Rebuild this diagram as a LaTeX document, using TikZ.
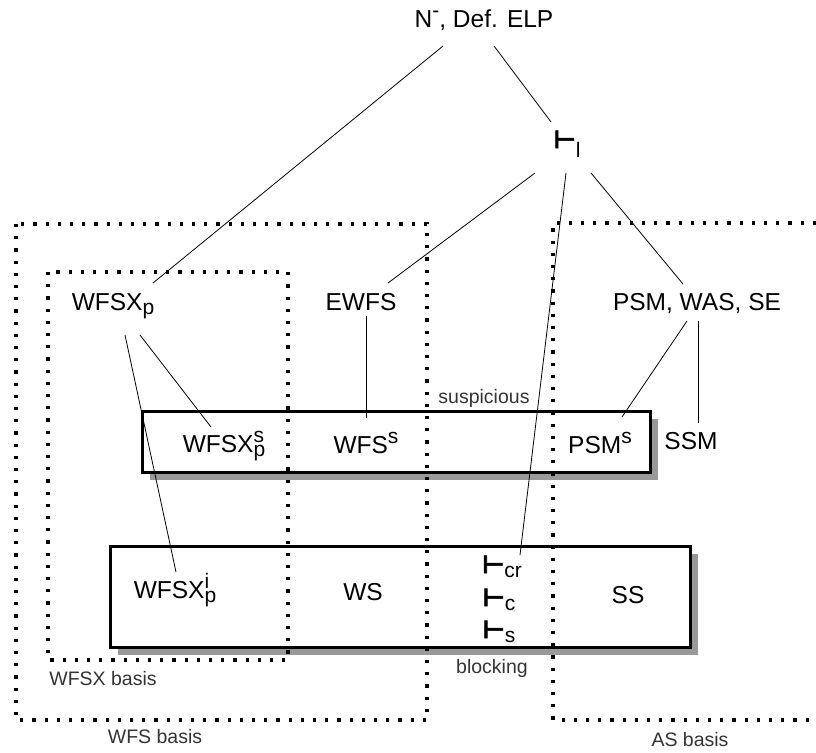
\documentclass[tikz,border=0pt]{standalone}
\usepackage{fontspec}
\setmainfont{Liberation Sans}
\newfontfamily\symfont[FakeBold=2.5]{DejaVu Sans Bold}
\usetikzlibrary{positioning,shadows}

% script sizes and the turnstile
\newcommand{\scr}{\fontsize{21}{23}\selectfont}
\newcommand{\up}[1]{\raisebox{10pt}{\scr #1}}
\newcommand{\dn}[2][4pt]{\raisebox{-#1}{\scr #2}}
\newcommand{\updn}[2]{\rlap{\up{#1}}\dn{#2}}
\newcommand{\ts}{{\symfont ⊢}}

\begin{document}
\begin{tikzpicture}[
  x=1pt, y=-1pt,
  lbl/.style={anchor=base, inner sep=2pt, font=\fontsize{24.5}{29}\selectfont},
  basis/.style={anchor=base, inner sep=1pt, font=\fontsize{19.5}{22}\selectfont, text=black!80},
  framebox/.style={draw, line width=3pt, fill=white, inner sep=0pt,
    drop shadow={shadow xshift=8pt, shadow yshift=-8pt, fill=black!40, opacity=1}},
  dots/.style={line width=3.2pt, dash pattern=on 3.2pt off 9pt},
  link/.style={line width=0.8pt},
]
  \useasboundingbox (0,0) rectangle (816,752);

  % Boxes
  \node[framebox, minimum width=508pt, minimum height=61pt] (susp) at (396,441.5) {};
  \node[framebox, minimum width=580pt, minimum height=101pt] (block) at (400,596.5) {};

  % Box labels
  \node[basis] (suspl) at (484,403) {suspicious};
  \node[basis] (blockl) at (492,673) {blocking};

  % Dotted areas
  \draw[dots] (16,224) rectangle (427,720);
  \draw[dots] (48,272) rectangle (288,660);
  \draw[dots] (816,223) -- (553,223) -- (553,720) -- (816,720);
  \node[basis] (wfsxb) at (103,685) {WFSX basis};
  \node[basis] (wfsb) at (155,743) {WFS basis};
  \node[basis] (asb) at (690,746) {AS basis};

  % Semantics
  \node[lbl] (top) at (484,28) {N\up{-}, Def. ELP};
  \node[lbl] (tl) at (567,148) {\ts\dn[9pt]{l}};
  \node[lbl] (wfsxp) at (113,310) {WFSX\dn{p}};
  \node[lbl] (ewfs) at (361,310) {EWFS};
  \node[lbl] (psm) at (697,310) {PSM, WAS, SE};
  \node[lbl] (wfsxps) at (224,452) {WFSX\updn{s}{p}};
  \node[lbl] (wfss) at (366,453) {WFS\up{s}};
  \node[lbl] (psms) at (600,453) {PSM\up{s}};
  \node[lbl] (ssm) at (691,449) {SSM};
  \node[lbl] (wfsxpi) at (175,598) {WFSX\updn{i}{p}};
  \node[lbl] (ws) at (363,600) {WS};
  \node[lbl] (ss) at (628,603) {SS};
  \node[lbl] (tcr) at (502,573) {\ts\dn{cr}};
  \node[lbl] (tc) at (499,606) {\ts\dn{c}};
  \node[lbl] (tsn) at (499,638) {\ts\dn{s}};

  % Connectors
  \draw[link] ([shift={(-41,18)}]top.base) -- ([shift={(40,-27)}]wfsxp.base);
  \draw[link] ([shift={(10,18)}]top.base) -- ([shift={(-16,-26)}]tl.base);
  \draw[link] ([shift={(-32,25)}]tl.base) -- ([shift={(27,-27)}]ewfs.base);
  \draw[link] ([shift={(-1,25)}]tl.base) -- ([shift={(18,-18)}]tcr.base);
  \draw[link] ([shift={(24,25)}]tl.base) -- ([shift={(-14,-26)}]psm.base);
  \draw[link] ([shift={(27,25)}]wfsxp.base) -- ([shift={(-13,-25)}]wfsxps.base);
  \draw[link] ([shift={(12,25)}]wfsxp.base) -- ([shift={(1,-26)}]wfsxpi.base);
  \draw[link] ([shift={(5,6)}]ewfs.base) -- ([shift={(0,-35)}]wfss.base);
  \draw[link] ([shift={(-10,11)}]psm.base) -- ([shift={(22,-36)}]psms.base);
  \draw[link] ([shift={(1,11)}]psm.base) -- ([shift={(7,-26)}]ssm.base);
\end{tikzpicture}
\end{document}
